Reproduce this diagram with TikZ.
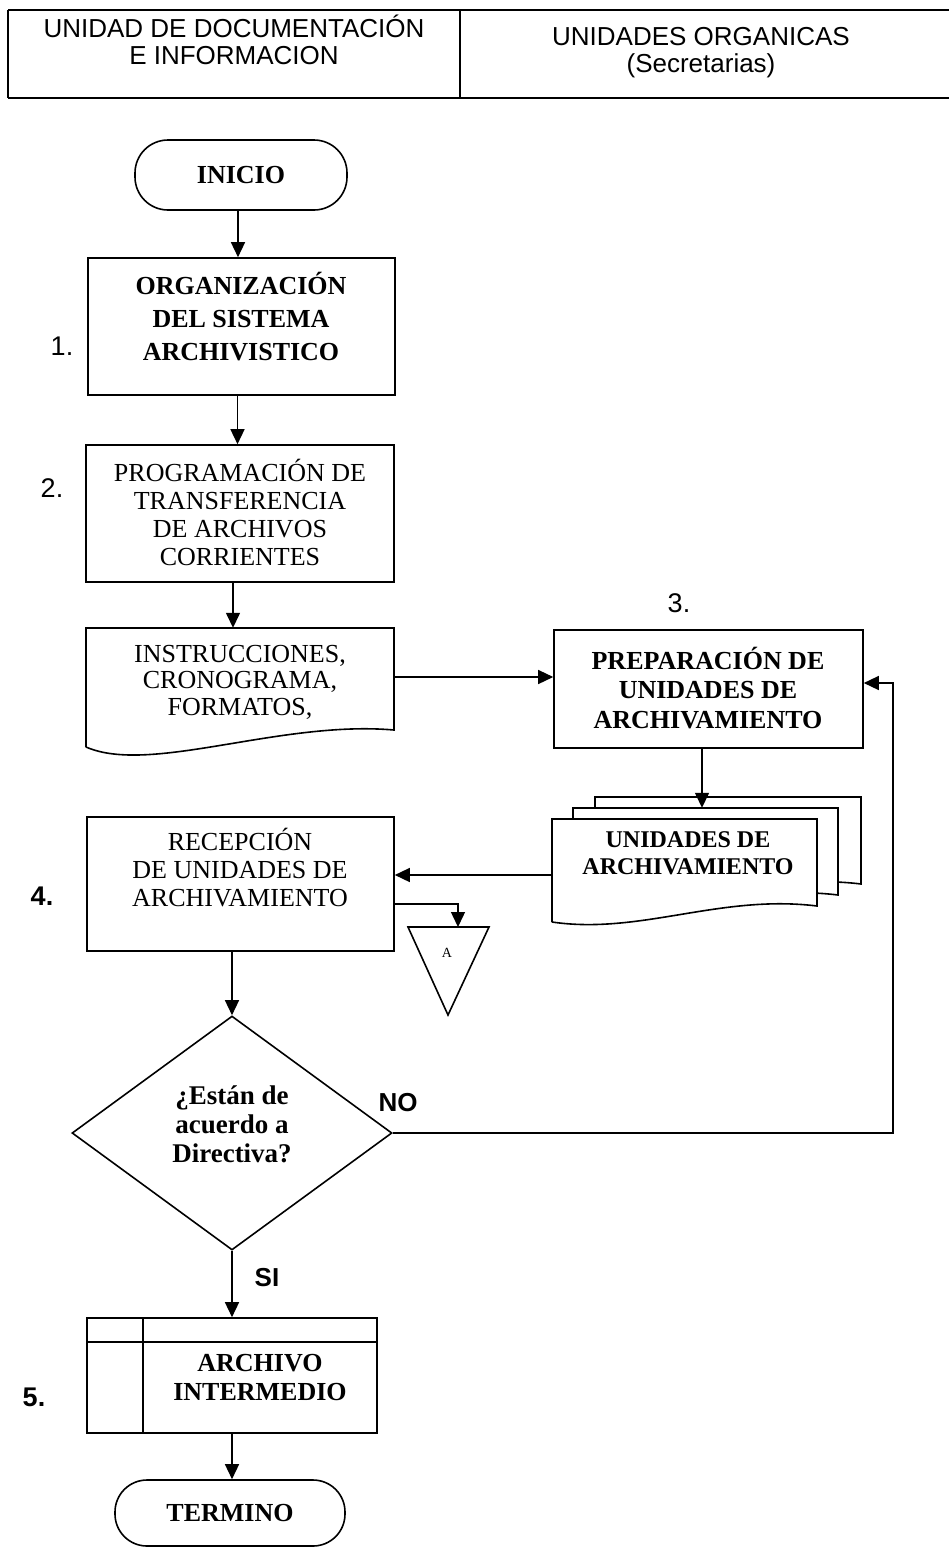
\documentclass[tikz,border=0pt]{standalone}
\usepackage{fontspec}
\setmainfont{Liberation Serif}
\newfontfamily\hsans{Liberation Sans}
\usetikzlibrary{arrows.meta,shapes.geometric}
\begin{document}
\begin{tikzpicture}[x=1pt,y=-1pt,
  shp/.style={draw, line width=1.6pt, inner sep=0pt},
  ph/.style={inner sep=0pt},
  arr/.style={line width=1.4pt, -{Triangle[length=15pt,width=14pt]}},
  ln/.style={line width=1.6pt},
  hline/.style={line width=2pt},
  bt/.style={font=\fontsize{26}{29}\selectfont\bfseries, align=center, inner sep=0pt},
  rt/.style={font=\fontsize{26}{28}\selectfont, align=center, inner sep=0pt},
  num/.style={font=\hsans\fontsize{27}{27}\selectfont, inner sep=0pt},
  bnum/.style={font=\hsans\bfseries\fontsize{27}{27}\selectfont, inner sep=0pt},
  hdr/.style={font=\hsans\fontsize{26}{27}\selectfont, align=center, inner sep=0pt}]

\useasboundingbox[fill=white] (0,0) rectangle (949,1564);

% header
\draw[hline] (8,10) -- (955,10);
\draw[hline] (8,98) -- (955,98);
\draw[ln] (8,10) -- (8,98);
\draw[ln] (460,10) -- (460,98);
\node[hdr] (hdrL) at (234,40) {UNIDAD DE DOCUMENTACIÓN\\E INFORMACION};
\node[hdr] (hdrR) at (701,53) {UNIDADES ORGANICAS\\(Secretarias)};

% INICIO
\node[shp, rounded corners=33pt, minimum width=212pt, minimum height=70pt, bt] (inicio) at (241,175) {INICIO};

% 1
\node[shp, minimum width=307pt, minimum height=137pt] (org) at (241.5,326.5) {};
\node[bt, font=\fontsize{26}{33}\selectfont\bfseries] (orgT) at (241,317) {ORGANIZACIÓN\\DEL SISTEMA\\ARCHIVISTICO};
\node[num] (n1) at (62,346) {1.};

% 2
\node[shp, minimum width=308pt, minimum height=137pt] (prog) at (240,513.5) {};
\node[rt] (progT) at (240,512) {PROGRAMACIÓN DE\\TRANSFERENCIA\\DE ARCHIVOS\\CORRIENTES};
\node[num] (n2) at (52,488) {2.};

% INSTRUCCIONES document
\node[ph, minimum width=308pt, minimum height=119pt] (instr) at (240,687.5) {};
\draw[ln] (86,747) -- (86,628) -- (394,628) -- (394,730)
  .. controls (280,720) and (150,775) .. (86,747);
\node[rt, font=\fontsize{26}{26.5}\selectfont] (instrT) at (240,682) {INSTRUCCIONES,\\CRONOGRAMA,\\FORMATOS,};

% 3
\node[shp, minimum width=309pt, minimum height=118pt] (prep) at (708.5,689) {};
\node[bt, font=\fontsize{26}{29.5}\selectfont\bfseries] (prepT) at (708,688) {PREPARACIÓN DE\\UNIDADES DE\\ARCHIVAMIENTO};
\node[num] (n3) at (679,603) {3.};

% stacked documents
\node[ph, minimum width=266pt, minimum height=103pt] (stkB) at (728,848.5) {};
\node[ph, minimum width=265pt, minimum height=103pt] (stkM) at (705.5,859.5) {};
\node[ph, minimum width=265pt, minimum height=103pt] (stk) at (684.5,870.5) {};
\draw[ln, fill=white] (595,900) -- (595,797) -- (861,797) -- (861,884)
  .. controls (764,872) and (684,913) .. (595,900);
\draw[ln, fill=white] (573,911) -- (573,808) -- (838,808) -- (838,895)
  .. controls (741,883) and (661,924) .. (573,911);
\draw[ln, fill=white] (552,922) -- (552,819) -- (817,819) -- (817,906)
  .. controls (720,894) and (640,935) .. (552,922);
\node[bt, font=\fontsize{24}{27}\selectfont\bfseries] (stkT) at (688,853) {UNIDADES DE\\ARCHIVAMIENTO};

% 4
\node[shp, minimum width=307pt, minimum height=134pt] (recep) at (240.5,884) {};
\node[rt] (recepT) at (240,868) {RECEPCIÓN\\DE UNIDADES DE\\ARCHIVAMIENTO};
\node[bnum] (n4) at (42,896) {4.};

% off-page connector A
\draw[ln] (408,927) -- (489,927) -- (448,1015) -- cycle;
\coordinate (Atop) at (458,927);
\node[font=\fontsize{14}{14}\selectfont, inner sep=0pt] (Alab) at (447,953) {A};

% decision
\node[shp, diamond, minimum width=320pt, minimum height=234pt] (dec) at (232,1133) {};
\node[bt, font=\fontsize{27}{29}\selectfont\bfseries] (decT) at (232,1124) {¿Están de\\acuerdo a\\Directiva?};
\node[bnum, font=\hsans\bfseries\fontsize{26}{26}\selectfont] (no) at (398,1103) {NO};
\node[bnum, font=\hsans\bfseries\fontsize{26}{26}\selectfont] (si) at (267,1278) {SI};
\coordinate (fbk) at (893,1133);

% 5
\node[shp, minimum width=290pt, minimum height=115pt] (arch) at (232,1375.5) {};
\draw[ln] (87,1342) -- (377,1342);
\draw[ln] (143,1318) -- (143,1433);
\node[bt] (archT) at (260,1378) {ARCHIVO\\INTERMEDIO};
\node[bnum] (n5) at (34,1397) {5.};

% TERMINO
\node[shp, rounded corners=32pt, minimum width=230pt, minimum height=66pt, bt] (termino) at (230,1513) {TERMINO};

% connectors
\draw[arr] ([xshift=-3pt]inicio.south) -- ([xshift=-3pt]inicio.south |- org.north);
\draw[arr] ([xshift=-4pt]org.south) -- ([xshift=-4pt]org.south |- prog.north);
\draw[arr] ([xshift=-7pt]prog.south) -- ([xshift=-7pt]prog.south |- instr.north);
\draw[arr] ([yshift=10.5pt]instr.east) -- ([yshift=10.5pt]instr.east -| prep.west);
\draw[arr] ([xshift=-6.5pt]prep.south) -- ([xshift=-6.5pt]prep.south |- stkM.north);
\draw[arr] ([yshift=-4.5pt]stk.west) -- ([yshift=-4.5pt]stk.west -| recep.east);
\draw[arr] ([yshift=-20pt]recep.east) -| (Atop);
\draw[arr] (recep.south -| dec.north) -- (dec.north);
\draw[arr] (dec.east) -- (fbk) |- ([yshift=6pt]prep.east);
\draw[arr] (dec.south) -- (dec.south |- arch.north);
\draw[arr] (arch.south) -- (arch.south |- termino.north);
\end{tikzpicture}
\end{document}
